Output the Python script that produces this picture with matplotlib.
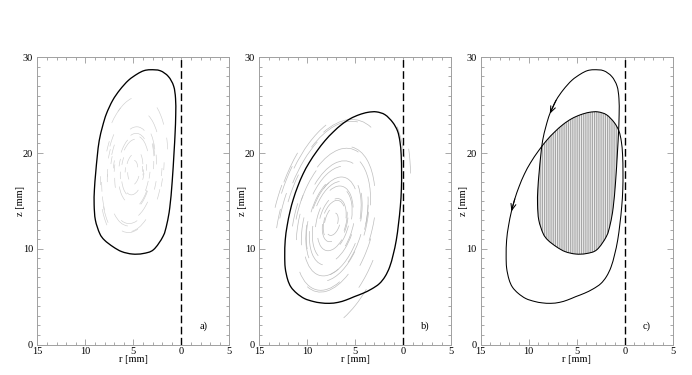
import numpy as np
import matplotlib
matplotlib.use('Agg')
import matplotlib.pyplot as plt
from matplotlib.path import Path
from matplotlib.patches import PathPatch, Arc
from matplotlib.ticker import MultipleLocator, FixedLocator, FuncFormatter

# ---- data (r [mm], z [mm]) ----
# contour of the vortex ring, panel a
A_R = [3.2, 2.2, 1.35, 0.8, 0.6, 0.58, 0.65, 0.76, 0.95, 1.2, 1.5, 1.9, 2.9, 4.0, 5.1, 6.2,
       7.1, 8.0, 8.5, 8.95, 9.08, 9.05, 8.92, 8.75, 8.55, 8.2, 7.8, 7.15, 6.4, 5.5, 4.6, 3.9]
A_Z = [28.7, 28.6, 28.0, 27.0, 25.7, 24.0, 22.0, 20.0, 17.0, 14.3, 12.6, 11.3, 9.9, 9.5, 9.45, 9.7,
       10.2, 10.9, 11.6, 13.0, 14.6, 16.2, 17.9, 19.7, 21.3, 22.8, 24.1, 25.5, 26.6, 27.6, 28.25, 28.6]
# contour of the vortex ring, panel b
B_R = [2.8, 1.9, 1.1, 0.6, 0.35, 0.22, 0.18, 0.2, 0.31, 0.5, 0.73, 1.05, 1.42, 1.9, 2.5, 3.3,
       4.2, 5.1, 5.95, 6.8, 7.7, 8.6, 9.4, 10.3, 11.1, 11.7, 12.05, 12.3, 12.35, 12.3, 12.1, 11.8,
       11.45, 11.0, 10.45, 9.8, 9.0, 8.15, 7.3, 6.4, 5.5, 4.6, 3.7]
B_Z = [24.3, 24.0, 23.2, 22.3, 21.2, 19.8, 18.0, 16.2, 14.4, 12.6, 10.9, 9.4, 8.1, 7.1, 6.35, 5.8,
       5.35, 5.0, 4.65, 4.4, 4.3, 4.35, 4.5, 4.8, 5.35, 6.0, 6.8, 8.0, 9.3, 10.9, 12.4, 13.9,
       15.2, 16.5, 17.8, 19.0, 20.2, 21.3, 22.2, 23.0, 23.6, 24.0, 24.25]

# faint particle streaks (elliptic arcs): relative size, start angle, span
A_CENTER = (5.0, 18.2)
A_AXES = (8.6, 3.8)
A_TILT = 95.6
SA_S = [0.12, 0.18, 0.22, 0.26, 0.3, 0.33, 0.36, 0.4, 0.43, 0.46, 0.5, 0.53, 0.56, 0.6, 0.63,
        0.66, 0.7, 0.73, 0.76, 0.8, 0.83, 0.86, 0.9, 0.93,
        0.15, 0.2, 0.28, 0.35, 0.42, 0.48, 0.55, 0.62, 0.68, 0.75, 0.82, 0.88, 0.92,
        0.25, 0.32, 0.38, 0.45, 0.52, 0.58, 0.65, 0.72, 0.78, 0.85, 0.9,
        0.3, 0.4, 0.5, 0.6, 0.7, 0.8, 0.9, 0.45, 0.55, 0.65, 0.75, 0.85]
SA_T1 = [0, 130, 250, 20, 160, 290, 60, 190, 320, 90, 220, 350, 30, 150, 280,
         110, 240, 10, 170, 300, 70, 200, 330, 40,
         200, 310, 80, 230, 5, 140, 270, 50, 180, 310, 100, 240, 15,
         60, 190, 330, 120, 260, 30, 170, 290, 80, 210, 340,
         100, 280, 140, 20, 250, 120, 200, 350, 60, 300, 160, 230]
SA_SPAN = [50, 40, 35, 32, 30, 28, 26, 25, 24, 22, 22, 20, 20, 18, 18,
           17, 16, 16, 15, 15, 14, 14, 13, 13,
           45, 38, 32, 28, 26, 24, 22, 20, 18, 16, 15, 14, 13,
           34, 30, 27, 24, 22, 20, 18, 17, 16, 14, 13,
           30, 26, 22, 20, 17, 15, 13, 24, 21, 18, 16, 14]

B_CENTER = (7.3, 12.8)
B_AXES = (9.6, 4.8)
B_TILT = 103.8
SB_S = [0.1, 0.15, 0.2, 0.24, 0.28, 0.32, 0.36, 0.4, 0.44, 0.48, 0.52, 0.56, 0.6, 0.64, 0.68,
        0.72, 0.76, 0.8, 0.84, 0.88,
        0.18, 0.26, 0.34, 0.42, 0.5, 0.58, 0.66, 0.74, 0.82, 0.86,
        0.22, 0.3, 0.38, 0.46, 0.54, 0.62, 0.7, 0.78, 0.85,
        0.3, 0.45, 0.55, 0.65, 0.75, 0.8, 0.5, 0.6, 0.7,
        1.06, 1.1, 1.15, 1.2, 1.25, 1.3, 1.12, 1.18, 1.08, 1.22, 1.14, 1.28, 1.45, 1.55]
SB_T1 = [0, 100, 200, 300, 40, 140, 240, 340, 80, 180, 280, 20, 120, 220, 320,
         60, 160, 260, 0, 100,
         250, 350, 90, 190, 290, 30, 130, 230, 330, 70,
         170, 270, 10, 110, 210, 310, 50, 150, 250,
         60, 300, 200, 100, 10, 290, 330, 160, 40,
         -80, -60, -100, -50, -75, -90, -30, -110, 120, 140, -20, -65, 20, 32]
SB_SPAN = [100, 90, 85, 80, 75, 70, 65, 60, 60, 55, 55, 50, 50, 45, 45,
           40, 40, 38, 35, 35,
           80, 70, 60, 55, 50, 45, 42, 40, 36, 34,
           75, 65, 58, 52, 48, 44, 40, 38, 34,
           60, 55, 50, 46, 42, 38, 50, 45, 40,
           30, 35, 28, 32, 25, 22, 30, 20, 25, 20, 28, 24, 14, 12]

R_TICKS = [15, 10, 5, 0, -5]
Z_TICKS = [0, 10, 20, 30]
PANEL_LABELS = ['a)', 'b)', 'c)']
ARROW_A_IDX = 26      # arrow along contour a (left upper flank)
ARROW_B_IDX = 31      # arrow along contour b (left flank)

plt.rcParams['font.family'] = ['Liberation Serif', 'DejaVu Serif']
plt.rcParams['hatch.linewidth'] = 0.7
FS = 7.5


def smooth_path(r, z):
    P = np.column_stack([r, z]).astype(float)
    n = len(P)
    verts = [P[0]]
    codes = [Path.MOVETO]
    for i in range(n):
        p0, p1, p2, p3 = P[i - 1], P[i], P[(i + 1) % n], P[(i + 2) % n]
        verts += [p1 + (p2 - p0) / 6.0, p2 - (p3 - p1) / 6.0, p2]
        codes += [Path.CURVE4] * 3
    verts.append(P[0])
    codes.append(Path.CLOSEPOLY)
    return Path(verts, codes)


def streaks(ax, center, axes, tilt, s, t1, span, color, lw):
    for si, a, sp in zip(s, t1, span):
        ax.add_patch(Arc(center, 2 * axes[0] * si, 2 * axes[1] * si, angle=tilt,
                         theta1=a, theta2=a + sp, color=color, lw=lw))


fig = plt.figure(figsize=(6.92, 3.75), dpi=100)
lefts = [37.3 / 692, 259.3 / 692, 480.7 / 692]
W = 192 / 692
BOT = 1 - 344.5 / 375
H = 287.2 / 375
axs = [fig.add_axes([l, BOT, W, H]) for l in lefts]

pathA = smooth_path(A_R, A_Z)
pathB = smooth_path(B_R, B_Z)

for i, ax in enumerate(axs):
    ax.set_xlim(15, -5)
    ax.set_ylim(0, 30)
    ax.xaxis.set_major_locator(FixedLocator(R_TICKS))
    ax.yaxis.set_major_locator(FixedLocator(Z_TICKS))
    ax.xaxis.set_minor_locator(MultipleLocator(1))
    ax.yaxis.set_minor_locator(MultipleLocator(1))
    ax.xaxis.set_major_formatter(FuncFormatter(lambda v, p: '%d' % abs(v)))
    ax.tick_params(which='both', direction='in', top=True, right=True, color='#9a9a9a',
                   labelsize=FS, width=0.6)
    ax.tick_params(axis='x', which='both', pad=2)
    ax.tick_params(axis='y', which='both', pad=3)
    ax.tick_params(which='major', length=4)
    ax.tick_params(which='minor', length=2)
    for sp in ax.spines.values():
        sp.set_color('#a0a0a0')
        sp.set_linewidth(0.7)
    ax.set_xlabel('r [mm]', fontsize=FS)
    ax.set_ylabel('z [mm]', fontsize=FS)
    ax.xaxis.set_label_coords(0.5, -0.037)
    ax.yaxis.set_label_coords(-0.064, 0.5)
    ax.plot([0, 0], [0, 30], color='black', lw=1.0, dashes=(5.5, 2.5))
    ax.text(-2.3, 1.9, PANEL_LABELS[i], fontsize=FS, ha='center', va='center')

# panel a
streaks(axs[0], A_CENTER, A_AXES, A_TILT, SA_S, SA_T1, SA_SPAN, '#cfcfcf', 0.45)
axs[0].add_patch(PathPatch(pathA, fill=False, ec='black', lw=0.95))

# panel b
streaks(axs[1], B_CENTER, B_AXES, B_TILT, SB_S, SB_T1, SB_SPAN, '#bdbdbd', 0.5)
axs[1].add_patch(PathPatch(pathB, fill=False, ec='black', lw=0.95))

# panel c: overlap of both contours hatched, both contours drawn
ax = axs[2]
fillB = PathPatch(pathB, facecolor='#9c9c9c', edgecolor='#f0f0f0', hatch='|' * 9, lw=0)
ax.add_patch(fillB)
fillB.set_clip_path(pathA, ax.transData)
ax.add_patch(PathPatch(pathA, fill=False, ec='black', lw=0.75))
ax.add_patch(PathPatch(pathB, fill=False, ec='black', lw=0.75))
for R, Z, k in [(A_R, A_Z, ARROW_A_IDX), (B_R, B_Z, ARROW_B_IDX)]:
    ax.annotate('', xy=(R[k], Z[k]), xytext=(R[k + 1], Z[k + 1]),
                arrowprops=dict(arrowstyle='->,head_length=0.45,head_width=0.18',
                                color='black', lw=0.75, shrinkA=0, shrinkB=0))

fig.savefig('out.png', dpi=100)
